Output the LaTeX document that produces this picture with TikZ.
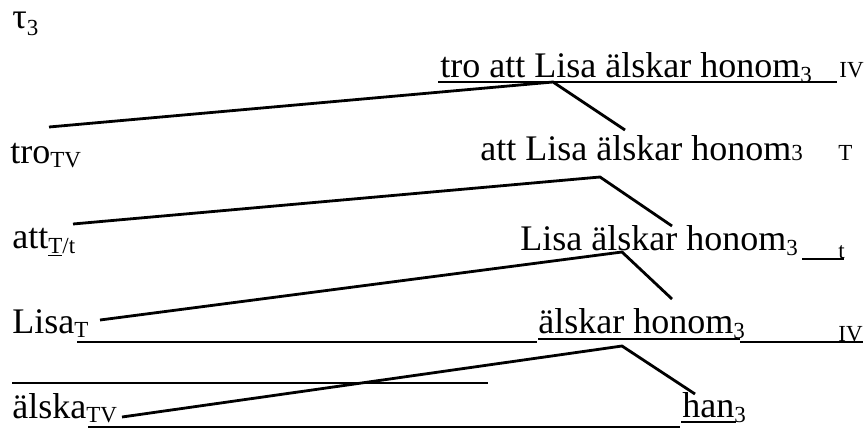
\documentclass[tikz,border=0pt]{standalone}
\usepackage{fontspec}
\setmainfont{Liberation Serif}
\newcommand\bigf{\fontsize{18}{20}\selectfont}
\newcommand\smf{\fontsize{11.5}{12}\selectfont}
\newcommand\lowsub[2]{\raisebox{-#1}{\smf #2}}
\begin{document}
\begin{tikzpicture}[x=0.5pt,y=-0.5pt,
  txt/.style={inner sep=0pt, anchor=base west, font=\bigf},
  lbl/.style={inner sep=0pt, anchor=base west, font=\smf},
  conn/.style={line width=1.4pt},
  uline/.style={line width=0.9pt}]
\useasboundingbox (0,0) rectangle (865,429);
% texts
\node[txt] (tau) at (12,28) {τ\lowsub{3.5pt}{3}};
\node[txt] (r1) at (440,77) {tro att Lisa älskar honom\lowsub{2.5pt}{3}};
\node[lbl] (r1c) at (839,77) {IV};
\node[txt] (tro) at (10,163) {tro\lowsub{2pt}{TV}};
\node[txt] (r2) at (480,160) {att Lisa älskar honom{\smf 3}};
\node[lbl] (r2c) at (838,160) {T};
\node[txt] (att) at (12,248) {att\lowsub{2.5pt}{\underline{T}/t}};
\node[txt] (r3) at (520,250) {Lisa älskar honom\lowsub{2.5pt}{3}};
\node[lbl] (r3c) at (838,258) {t};
\node[txt] (lisa) at (12,333) {Lisa\lowsub{2pt}{T}};
\node[txt] (r4) at (538,333) {älskar honom\lowsub{2.5pt}{3}};
\node[lbl] (r4c) at (838,341) {IV};
\node[txt] (alska) at (12,418) {älska\lowsub{2pt}{TV}};
\node[txt] (han) at (682,417) {han\lowsub{2.5pt}{3}};
% underlines
\draw[uline] (438,82) -- (837,82);
\draw[uline] (802,259) -- (844,259);
\draw[uline] (77,342) -- (537,342);
\draw[uline] (538,339) -- (740,339);
\draw[uline] (740,342) -- (863,342);
\draw[uline] (12,383) -- (488,383);
\draw[uline] (88,427) -- (680,427);
\draw[uline] (681,422) -- (736,422);
% connector points
\coordinate (l1) at (49,127);  \coordinate (a1) at (553,82);  \coordinate (e1) at (625,130);
\coordinate (l2) at (73,224);  \coordinate (a2) at (600,177); \coordinate (e2) at (672,226);
\coordinate (l3) at (100,320); \coordinate (a3) at (622,252); \coordinate (e3) at (672,299);
\coordinate (l4) at (122,417); \coordinate (a4) at (622,346); \coordinate (e4) at (695,394);
\draw[conn] (l1) -- (a1) -- (e1);
\draw[conn] (l2) -- (a2) -- (e2);
\draw[conn] (l3) -- (a3) -- (e3);
\draw[conn] (l4) -- (a4) -- (e4);
\end{tikzpicture}
\end{document}
